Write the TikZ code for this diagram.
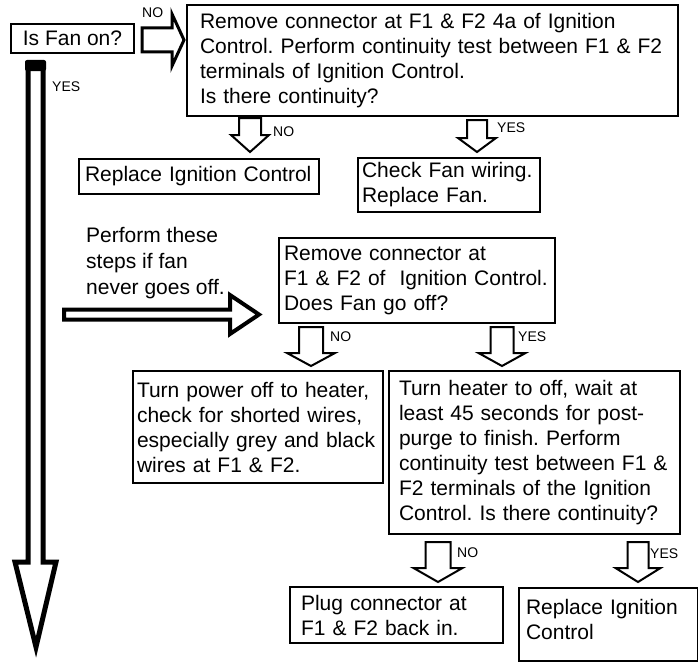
\documentclass[tikz,border=0pt]{standalone}
\usepackage{fontspec}
\setmainfont{Liberation Sans}
\usetikzlibrary{positioning}
\frenchspacing
% hollow block arrow pointing down: centre x, top, head base, tip, half shaft, half head
\newcommand{\hdown}[6]{\draw[harrow] ({#1-#5},#2) -- ({#1-#5},#3) -- ({#1-#6},#3) -- (#1,#4) -- ({#1+#6},#3) -- ({#1+#5},#3) -- ({#1+#5},#2) -- cycle;}
\begin{document}
\begin{tikzpicture}[x=1pt,y=-1pt,line join=miter,
  box/.style={draw,line width=2pt,anchor=north west,align=left,inner ysep=0pt,font=\fontsize{21}{25}\selectfont},
  lbl/.style={anchor=west,inner sep=0pt,font=\fontsize{14}{16}\selectfont},
  harrow/.style={draw,line width=2pt}]
\useasboundingbox (0,0) rectangle (698,661);

% boxes
\node[box,inner xsep=0pt,align=center,minimum width=123pt,minimum height=29pt] (fan) at (10,23) {Is Fan on?};
\node[box,inner xsep=13pt,text width=465pt,minimum height=111pt] (q1) at (186,4)
  {Remove connector at F1 \& F2 4a of Ignition\\Control. Perform continuity test between F1 \& F2\\terminals of Ignition Control.\\Is there continuity?};
\node[box,inner xsep=6pt,text width=228pt,minimum height=35pt] (r1) at (78,158) {Replace Ignition Control};
\node[box,inner xsep=4pt,text width=174pt,minimum height=54pt] (fanwire) at (357,157) {Check Fan wiring.\\Replace Fan.};
\node[box,inner xsep=5pt,text width=266pt,minimum height=85pt] (q2) at (278,237)
  {Remove connector at\\F1 \& F2 of~ Ignition Control.\\Does Fan go off?};
\node[box,inner xsep=4pt,text width=242pt,minimum height=112pt] (power) at (132,370)
  {Turn power off to heater,\\check for shorted wires,\\especially grey and black\\wires at F1 \& F2.};
\node[box,inner xsep=10pt,text width=271pt,minimum height=163pt] (q3) at (388,370)
  {Turn heater to off, wait at\\least 45 seconds for post-\\purge to finish. Perform\\continuity test between F1 \&\\F2 terminals of the Ignition\\Control. Is there continuity?};
\node[box,inner xsep=11pt,text width=191pt,minimum height=56pt] (plug) at (289,586) {Plug connector at\\F1 \& F2 back in.};
\node[box,inner xsep=7pt,inner ysep=10pt,text width=165pt,text height=16pt,text depth=37pt] (r2) at (518,587) {Replace Ignition\\Control};

\node[anchor=north west,inner sep=0pt,align=left,font=\fontsize{21}{26}\selectfont] (hint) at (86,227)
  {Perform these\\steps if fan\\never goes off.};

% big arrows
\draw[line width=3pt] (142,28) -- (172,28) -- (172,14) -- (184,40) -- (172,66) -- (172,52) -- (142,52) -- cycle;
\draw[line width=4pt] (64,309.5) -- (230,309.5) -- (230,295) -- (259,314.5) -- (230,334) -- (230,319.5) -- (64,319.5) -- cycle;
\draw[line width=5pt] (28,64) -- (28,562) -- (15,562) -- (36,647) -- (56,562) -- (43,562) -- (43,64) -- cycle;
\fill[rounded corners=2pt] (25,60) rectangle (46,71);

% small arrows
\hdown{250}{118}{135}{152}{11}{19}
\hdown{477}{120}{138}{152}{10}{19}
\hdown{311}{327}{353}{366}{12}{24}
\hdown{502}{327}{353}{366}{11.5}{23.5}
\hdown{438}{542}{568}{582}{12.5}{24.5}
\hdown{638}{542}{568}{582}{10.5}{22.5}

% labels
\node[lbl] (no0) at (142,13) {NO};
\node[lbl] (yes0) at (52,87) {YES};
\node[lbl] (no1) at (273,132) {NO};
\node[lbl] (yes1) at (497,128) {YES};
\node[lbl] (no2) at (330,337) {NO};
\node[lbl] (yes2) at (518,337) {YES};
\node[lbl] (no3) at (457,553) {NO};
\node[lbl] (yes3) at (650,554) {YES};
\end{tikzpicture}
\end{document}
